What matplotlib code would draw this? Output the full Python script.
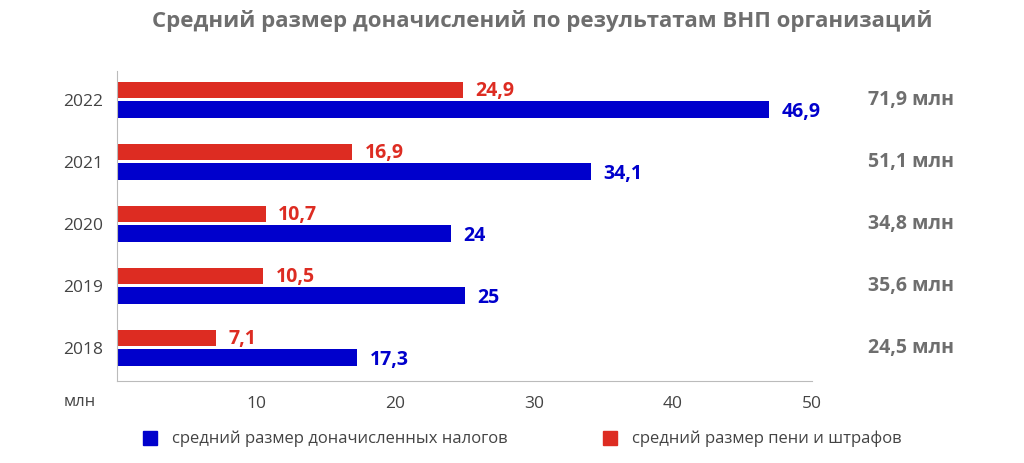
import matplotlib
matplotlib.use("Agg")
import matplotlib.pyplot as plt
from matplotlib.patches import Rectangle

plt.rcParams["font.family"] = "Open Sans"

years = ["2018", "2019", "2020", "2021", "2022"]
taxes = [17.3, 25, 24, 34.1, 46.9]
penalties = [7.1, 10.5, 10.7, 16.9, 24.9]
totals = ["24,5 млн", "35,6 млн", "34,8 млн", "51,1 млн", "71,9 млн"]
xticks = [10, 20, 30, 40, 50]

blue = "#0000CC"
red = "#DD2C22"
gray = "#6E6E6E"

def fmt(v):
    s = f"{v:g}"
    return s.replace(".", ",")

fig = plt.figure(figsize=(10.24, 4.64), dpi=100)
ax = fig.add_axes([117/1024, 1-382/464, (812-117)/1024, (382-72)/464])
y = list(range(len(years)))
h = 0.26
ax.barh([i - 0.17 for i in y], taxes, height=h, color=blue)
ax.barh([i + 0.15 for i in y], penalties, height=h, color=red)
for i in y:
    ax.text(taxes[i] + 0.9, i - 0.2, fmt(taxes[i]), color=blue, fontsize=14,
            fontweight="bold", va="center", ha="left")
    ax.text(penalties[i] + 0.9, i + 0.15, fmt(penalties[i]), color=red, fontsize=14,
            fontweight="bold", va="center", ha="left")
    ax.text(57.1, i, totals[i], color=gray, fontsize=14, fontweight="bold",
            va="center", ha="center")
ax.set_xlim(0, 50)
ax.set_ylim(-0.55, 4.45)
ax.set_yticks(y)
ax.set_yticklabels(years, fontsize=12.5, color="#444444")
ax.set_xticks(xticks)
ax.set_xticklabels([str(t) for t in xticks], fontsize=12.5, color="#444444")
ax.tick_params(length=0, pad=10)
for s in ["top", "right"]:
    ax.spines[s].set_visible(False)
for s in ["left", "bottom"]:
    ax.spines[s].set_color("#BBBBBB")
ax.text(-1.5, -0.75, "млн", fontsize=12, color="#444444", ha="right", va="top")

fig.text(0.53, 0.955, "Средний размер доначислений по результатам ВНП организаций",
         ha="center", va="center", fontsize=16, fontweight="bold", color=gray)

fig.patches.append(Rectangle((143/1024, 1-446/464), 14/1024, 14/464,
                             transform=fig.transFigure, color=blue))
fig.text(172/1024, 1-439/464, "средний размер доначисленных налогов", fontsize=12,
         color="#444444", va="center")
fig.patches.append(Rectangle((603/1024, 1-446/464), 14/1024, 14/464,
                             transform=fig.transFigure, color=red))
fig.text(632/1024, 1-439/464, "средний размер пени и штрафов", fontsize=12,
         color="#444444", va="center")

fig.savefig("out.png", dpi=100)
